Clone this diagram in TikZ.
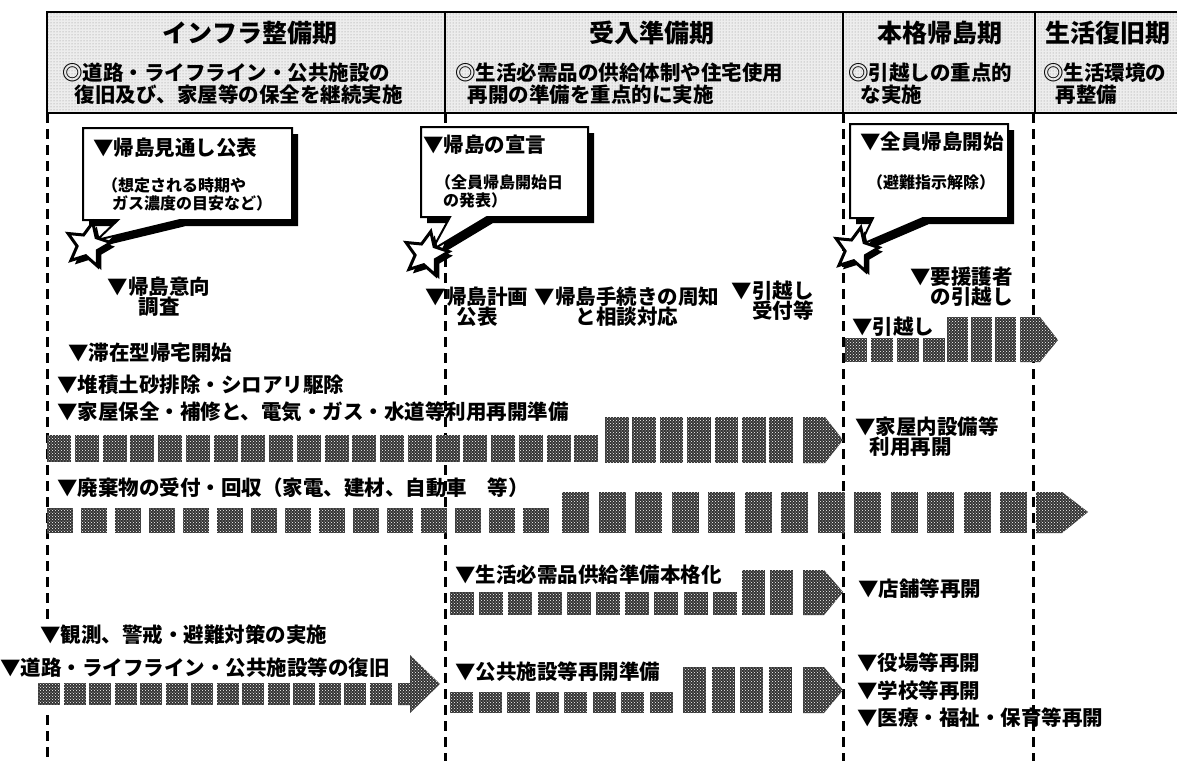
\documentclass[tikz,border=0pt]{standalone}
\usepackage{fontspec}
\setmainfont{Noto Sans CJK JP}
\usetikzlibrary{shapes.geometric,patterns}
\tikzset{
  lbl/.style={font=\bfseries\fontsize{20.5}{20}\selectfont, inner sep=0pt, anchor=west},
  sml/.style={font=\bfseries\fontsize{16}{18}\selectfont, inner sep=0pt, anchor=west},
  ttl/.style={font=\bfseries\fontsize{25}{28}\selectfont, inner sep=0pt},
  sub/.style={font=\bfseries\fontsize{20.5}{22}\selectfont, inner sep=0pt, anchor=north west, align=left},
  blk/.style={fill=black!80, postaction={pattern=crosshatch dots, pattern color=white}},
  hdr/.style={fill=black!7, postaction={pattern=dots, pattern color=black!45}},
  vdash/.style={line width=3pt, dash pattern=on 10pt off 6pt},
  boxline/.style={line width=2pt, fill=white, line join=miter},
  starw/.style={star, star points=5, star point ratio=2.1, minimum size=46pt, inner sep=0pt, draw, line width=3pt, fill=white, rotate=-12},
  stark/.style={star, star points=5, star point ratio=2.1, minimum size=46pt, inner sep=0pt, fill=black, rotate=-12}
}
\begin{document}
\begin{tikzpicture}[x=1pt,y=-1pt]
\useasboundingbox (0,0) rectangle (1177,761);
\fill[white] (0,0) rectangle (1177,761);

% ---------- header ----------
\path[hdr] (47,12) rectangle (1182,113);
\draw[line width=2pt] (1182,12) -- (47,12) -- (47,113) -- (1182,113);
\draw[line width=2.8pt] (445,12) -- (445,113);
\draw[line width=2.8pt] (843,12) -- (843,113);
\draw[line width=2.8pt] (1035,12) -- (1035,113);

\node[ttl] (t1) at (250,33) {インフラ整備期};
\node[ttl] (t2) at (652,33) {受入準備期};
\node[ttl] (t3) at (940,33) {本格帰島期};
\node[ttl,anchor=west] (t4) at (1045,33) {生活復旧期};

\node[sub] (s1) at (62,63) {◎道路・ライフライン・公共施設の\\\hspace*{0.6em}復旧及び、家屋等の保全を継続実施};
\node[sub] (s2) at (455,63) {◎生活必需品の供給体制や住宅使用\\\hspace*{0.6em}再開の準備を重点的に実施};
\node[sub] (s3) at (848,63) {◎引越しの重点的\\\hspace*{0.6em}な実施};
\node[sub] (s4) at (1043,63) {◎生活環境の\\\hspace*{0.6em}再整備};

% ---------- dashed period lines ----------
\draw[vdash] (47,113) -- (47,622);
\draw[vdash] (47,715) -- (47,761);
\draw[vdash] (445,113) -- (445,761);
\draw[vdash] (843,113) -- (843,761);
\draw[vdash] (1033,113) -- (1033,761);

% ---------- callouts ----------
\begin{scope}[shift={(6,6)}]
\fill (83,128) -- (292,128) -- (292,220) -- (180,220) -- (97,240) -- (118,220) -- (83,220) -- cycle;
\fill (421,127) -- (588,127) -- (588,217) -- (487,217) -- (432,250) -- (450,217) -- (421,217) -- cycle;
\fill (850,124) -- (1008,124) -- (1008,218) -- (923,218) -- (860,245) -- (873,218) -- (850,218) -- cycle;
\end{scope}
\draw[boxline] (83,128) -- (292,128) -- (292,220) -- (180,220) -- (97,240) -- (118,220) -- (83,220) -- cycle;
\draw[boxline] (421,127) -- (588,127) -- (588,217) -- (487,217) -- (432,250) -- (450,217) -- (421,217) -- cycle;
\draw[boxline] (850,124) -- (1008,124) -- (1008,218) -- (923,218) -- (860,245) -- (873,218) -- (850,218) -- cycle;

\node[lbl] (c1a) at (93,148) {▼帰島見通し公表};
\node[sml] (c1b) at (102,185) {（想定される時期や};
\node[sml] (c1c) at (112,203) {ガス濃度の目安など）};
\node[lbl] (c2a) at (423,145) {▼帰島の宣言};
\node[sml] (c2b) at (435,182) {（全員帰島開始日};
\node[sml] (c2c) at (443,200) {の発表）};
\node[lbl] (c3a) at (860,142) {▼全員帰島開始};
\node[sml] (c3b) at (867,182) {（避難指示解除）};

% stars
\node[stark] (k1) at (92,249) {};
\node[starw] (st1) at (88,245) {};
\node[stark] (k2) at (430,258) {};
\node[starw] (st2) at (426,254) {};
\node[stark] (k3) at (860,254) {};
\node[starw] (st3) at (856,250) {};

% ---------- labels ----------
\node[lbl,anchor=center,align=center] (l1) at (159,297) {▼帰島意向\\調査};
\node[lbl,anchor=center,align=center] (l2) at (477,307) {▼帰島計画\\公表};
\node[lbl,anchor=center,align=center] (l3) at (627,307) {▼帰島手続きの周知\\と相談対応};
\node[lbl,anchor=east,align=right] (l4) at (814,301) {▼引越し\\受付等};
\node[lbl,anchor=east,align=right] (l5) at (1013,287) {▼要援護者\\の引越し};
\node[lbl] (l6) at (852,327) {▼引越し};

\node[lbl] (l7) at (68,353) {▼滞在型帰宅開始};
\node[lbl] (l8) at (57,385) {▼堆積土砂排除・シロアリ駆除};
\node[lbl] (l9) at (57,412) {▼家屋保全・補修と、電気・ガス・水道等利用再開準備};
\node[lbl] (l10) at (57,488) {▼廃棄物の受付・回収（家電、建材、自動車　等）};
\node[lbl] (l11) at (455,575) {▼生活必需品供給準備本格化};
\node[lbl] (l12) at (40,635) {▼観測、警戒・避難対策の実施};
\node[lbl] (l13) at (0,668) {▼道路・ライフライン・公共施設等の復旧};
\node[lbl] (l14) at (455,672) {▼公共施設等再開準備};

\node[lbl,align=left] (l15) at (855,437) {▼家屋内設備等\\\hspace*{0.7em}利用再開};
\node[lbl] (l16) at (858,589) {▼店舗等再開};
\node[lbl] (l17) at (857,663) {▼役場等再開};
\node[lbl] (l18) at (857,691) {▼学校等再開};
\node[lbl] (l19) at (857,718) {▼医療・福祉・保育等再開};

% ---------- bars ----------
% A: house maintenance
\foreach \i in {0,...,19} \path[blk] ({47+\i*27.75},435) rectangle +(24,27);
\foreach \i in {0,...,6} \path[blk] ({605+\i*27.4},417) rectangle +(23.5,46);
\path[blk] (803,417) -- (825,417) -- (843,440) -- (825,463) -- (803,463) -- cycle;
% B: waste
\foreach \i in {0,...,14} \path[blk] ({47+\i*34},508) rectangle +(26,25);
\foreach \i in {0,...,12} \path[blk] ({562+\i*36.5},492) rectangle +(27,41);
\path[blk] (1036,492) -- (1062,492) -- (1088,512) -- (1062,533) -- (1036,533) -- cycle;
% C: necessities
\foreach \i in {0,...,9} \path[blk] ({450+\i*29.2},592) rectangle +(24,23);
\path[blk] (742,570) rectangle +(23,45);
\path[blk] (770,570) rectangle +(23,45);
\path[blk] (803,570) -- (824,570) -- (843,592) -- (824,615) -- (803,615) -- cycle;
% D: roads
\foreach \i in {0,...,13} \path[blk] ({38+\i*25.5},683) rectangle +(22,22);
\path[blk] (398,683) -- (410,683) -- (410,655) -- (440,684) -- (410,713) -- (410,705) -- (398,705) -- cycle;
% E: public facilities
\foreach \i in {0,...,7} \path[blk] ({450+\i*28.5},692) rectangle +(23,21);
\foreach \i in {0,...,3} \path[blk] ({683+\i*28.5},667) rectangle +(23,46);
\path[blk] (803,667) -- (824,667) -- (843,690) -- (824,713) -- (803,713) -- cycle;
% F: moving
\foreach \i in {0,...,3} \path[blk] ({845+\i*26},338) rectangle +(22,24);
\foreach \i in {0,...,2} \path[blk] ({947+\i*24},317) rectangle +(21,45);
\path[blk] (1020,317) -- (1040,317) -- (1058,340) -- (1040,362) -- (1020,362) -- cycle;
\end{tikzpicture}
\end{document}
